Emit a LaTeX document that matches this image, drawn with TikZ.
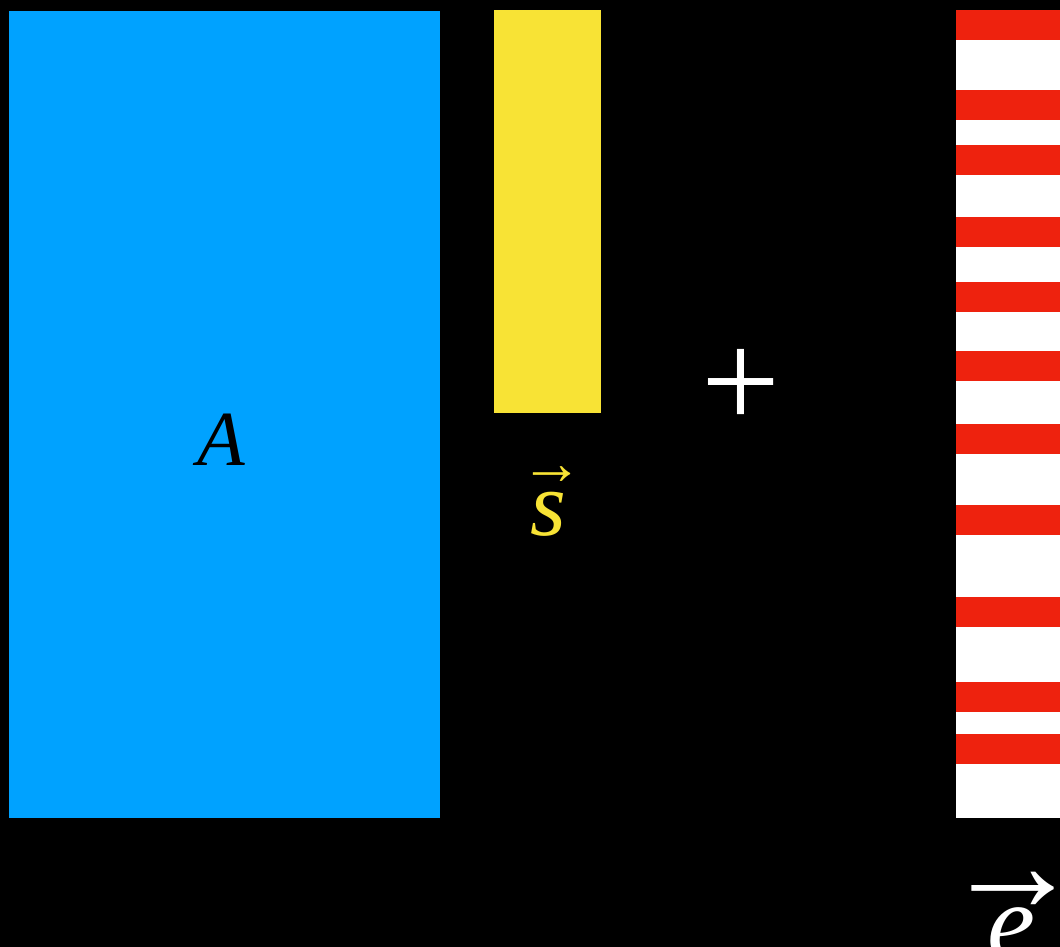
\documentclass[tikz,border=0pt]{standalone}
\usepackage{fontspec}
\setmainfont{Liberation Serif}
\usetikzlibrary{positioning}
\definecolor{matblue}{RGB}{0, 162, 255}
\definecolor{vecyellow}{RGB}{248, 227, 53}
\definecolor{errred}{RGB}{238, 34, 14}

\begin{document}
\begin{tikzpicture}[x=1pt, y=-1pt,
    block/.style={shape=rectangle, inner sep=0pt, outer sep=0pt},
    symb/.style={inner sep=0pt, anchor=base, font=\fontsize{78}{94}\selectfont}
  ]
  \fill[black] (0,0) rectangle (1060,947);
  \useasboundingbox (0,0) rectangle (1060,947);

  % matrix, signal and noise
  \node[block, fill=matblue, minimum width=431pt, minimum height=807pt] (Amat) at (224.5, 414.5) {};
  \node[block, fill=vecyellow, minimum width=107pt, minimum height=403pt] (svec) at (547.5, 211.5) {};
  \node[block, fill=white, minimum width=104pt, minimum height=808pt] (evec) at (1008, 414) {};
  \foreach \y in {10, 90, 145, 217, 282, 351, 424, 505, 597, 682, 734}
    \fill[errred] (956, \y) rectangle (1060, \y+30);

  \node[symb] (Alab) at (221, 465) {\textit{A}};
  \node[symb, text=vecyellow, font=\fontsize{92}{110}\selectfont] (slab) at (548, 535) {\textit{s}};
  \node[symb, text=vecyellow, font=\fontsize{63}{76}\selectfont] (sarrow) at (552, 484) {→};
  \node[symb, text=white, font=\fontsize{140}{168}\selectfont] (plus) at (741, 428) {+};
  \node[symb, text=white, font=\fontsize{108}{130}\selectfont] (elab) at (1011, 958) {\textit{e}};
  \node[symb, text=white, font=\fontsize{139}{166}\selectfont] (earrow) at (1013, 911) {→};
\end{tikzpicture}
\end{document}
